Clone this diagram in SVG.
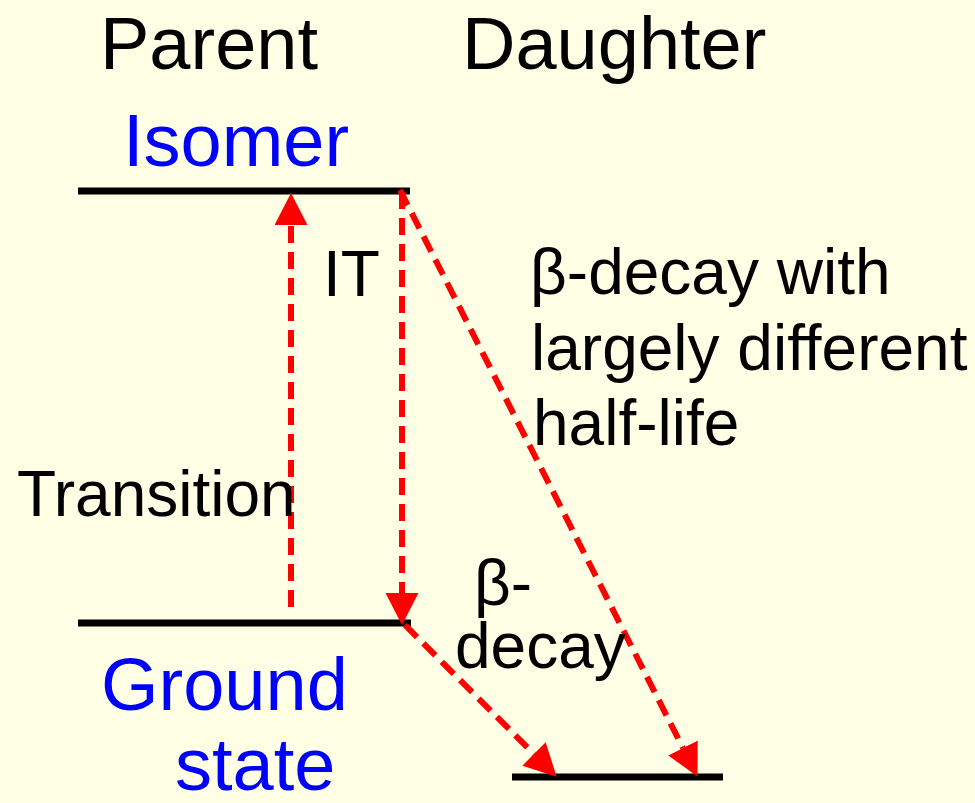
<svg xmlns="http://www.w3.org/2000/svg" width="975" height="803" viewBox="0 0 975 803">
<style>
.bg{fill:#FFFFE6}
.lvl{stroke:#000;stroke-width:7;fill:none}
.t{font-family:"Liberation Sans",Arial,sans-serif;fill:#000}
.big{font-size:74px}
.sm{font-size:64px}
.blue{fill:#0000FF}
.arr{stroke:#FF0000;stroke-width:6;stroke-dasharray:17 9;fill:none;marker-end:url(#ah)}
</style>
<defs>
<marker id="ah" viewBox="0 0 32 33" markerWidth="32" markerHeight="33" markerUnits="userSpaceOnUse" refX="0" refY="16.5" orient="auto">
<path d="M0,0 L32,16.5 L0,33 Z" fill="#FF0000"/>
</marker>
</defs>
<rect class="bg" x="0" y="0" width="975" height="803"/>
<g id="header">
<text class="t big" x="100" y="69">Parent</text>
<text class="t big" x="462" y="69">Daughter</text>
</g>
<g id="isomer">
<line class="lvl" x1="78" y1="191" x2="410" y2="191"/>
<text class="t big blue" x="123" y="166">Isomer</text>
</g>
<g id="ground">
<line class="lvl" x1="78" y1="623" x2="411" y2="623"/>
<text class="t big blue" x="101" y="710">Ground</text>
<text class="t big blue" x="175" y="790">state</text>
</g>
<g id="daughter">
<line class="lvl" x1="512" y1="777" x2="723" y2="777"/>
</g>
<g id="connectors">
<line class="arr" x1="291" y1="607" x2="291" y2="225"/>
<line class="arr" x1="402" y1="192" x2="402" y2="593"/>
<line class="arr" x1="405" y1="625" x2="534" y2="754"/>
<line class="arr" x1="400" y1="190" x2="683" y2="748"/>
</g>
<g id="labels">
<text class="t sm" x="323" y="296">IT</text>
<text class="t sm" x="17" y="516">Transition</text>
<text class="t sm" x="530" y="294">β-decay with</text>
<text class="t sm" x="531" y="370">largely different</text>
<text class="t sm" x="533" y="445">half-life</text>
<text class="t sm" x="474" y="605">β-</text>
<text class="t sm" x="455" y="668">decay</text>
</g>
</svg>
